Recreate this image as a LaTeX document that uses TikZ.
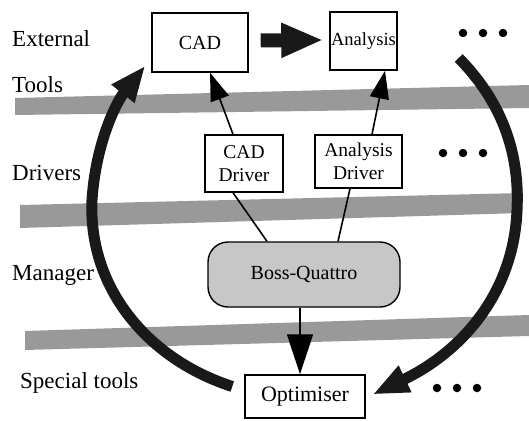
\documentclass[tikz,border=0pt]{standalone}
\usepackage{fontspec}
\setmainfont{Liberation Serif}
\usetikzlibrary{arrows.meta,calc}
\begin{document}
\begin{tikzpicture}[x=1pt,y=-1pt,
  band/.style={fill=black!40},
  box/.style={draw,line width=1.4pt,fill=white,inner sep=0pt,align=center},
  lbl/.style={anchor=base west,inner sep=0pt,font=\fontsize{23}{26}\selectfont},
  thin/.style={line width=1.6pt},
  headarrow/.style={thin,-{Triangle[length=28pt,width=19pt]}},
  bigarc/.style={line width=11pt,black!90,-{Triangle[length=36pt,width=27pt]}},
  dot/.style={circle,fill=black,inner sep=0pt,minimum size=8.5pt}]
\useasboundingbox (0,0) rectangle (529,420);

% bands
\fill[band] (15,98) -- (529,85) -- (529,108) -- (15,115) -- cycle;
\fill[band] (20,205) -- (522,193) -- (522,213) -- (20,228) -- cycle;
\fill[band] (25,331) -- (529,315) -- (529,336) -- (25,350) -- cycle;

% labels
\node[lbl] (lext) at (12,47) {External};
\node[lbl] (ltools) at (12,92) {Tools};
\node[lbl] (ldrv) at (12,180) {Drivers};
\node[lbl] (lman) at (12,280) {Manager};
\node[lbl] (lspec) at (20,388) {Special tools};

% boxes
\node[box,minimum width=96pt,minimum height=59pt,font=\fontsize{20}{24}\selectfont] (cad) at (200,42.5) {CAD};
\node[box,minimum width=67pt,minimum height=58pt,font=\fontsize{18.5}{22}\selectfont] (ana) at (363.5,41) {Analysis};
\node[box,minimum width=78pt,minimum height=57pt,font=\fontsize{19.5}{23}\selectfont] (cdrv) at (244,163.5) {CAD\\Driver};
\node[box,minimum width=87pt,minimum height=53pt,font=\fontsize{19.5}{23}\selectfont] (adrv) at (358.5,161.5) {Analysis\\Driver};
\node[box,fill=black!22,rounded corners=20pt,minimum width=192pt,minimum height=65pt,font=\fontsize{20}{24}\selectfont] (boss) at (304,274.5) {Boss-Quattro};
\node[box,minimum width=120pt,minimum height=43pt,font=\fontsize{22}{26}\selectfont] (opt) at (305,396.5) {Optimiser};

% arc end points
\coordinate (lstart) at ($(opt.west)+(-12,-10)$);
\coordinate (lend) at ($(cad.south west)+(-6,-7)$);
\coordinate (rstart) at ($(ana.east)+(61,17)$);
\coordinate (rend) at ($(opt.east)+(7,-2)$);

% big arcs
\draw[bigarc] (lstart) .. controls (150,360) and (88,290) .. (92,200)
   .. controls (96,140) and (118,100) .. (lend);
\draw[bigarc] (rstart) .. controls (500,100) and (520,150) .. (517,210)
   .. controls (514,290) and (465,350) .. (rend);

% thick arrow CAD -> Analysis
\draw[line width=14pt,black!90,-{Triangle[length=42pt,width=32pt]}]
  ($(cad.east)+(12,-2)$) -- ($(ana.west)+(-6,-1)$);

% driver arrows
\draw[headarrow] ($(cdrv.north)+(-11,0)$) -- ($(cad.south)+(10,0)$);
\draw[headarrow] ($(adrv.north)+(13.5,0)$) -- ($(ana.south)+(21.5,0)$);

% driver to manager
\draw[thin] ($(cdrv.south)+(-11,0)$) -- ($(boss.north)+(-37,0)$);
\draw[thin] ($(adrv.south)+(-8.5,0)$) -- ($(boss.north)+(34,0)$);

% manager to optimiser
\draw[thin,-{Triangle[length=40pt,width=26pt]}] ($(boss.south)+(-4,0)$) -- ($(opt.north)+(-5,0)$);

% dots
\foreach \i/\x/\y in {a/463/33,b/483/33,c/503/33,d/443/153,e/463/153,f/483/153,g/437/388,h/457/388,k/477/388}
  \node[dot] (dot\i) at (\x,\y) {};
\end{tikzpicture}
\end{document}
